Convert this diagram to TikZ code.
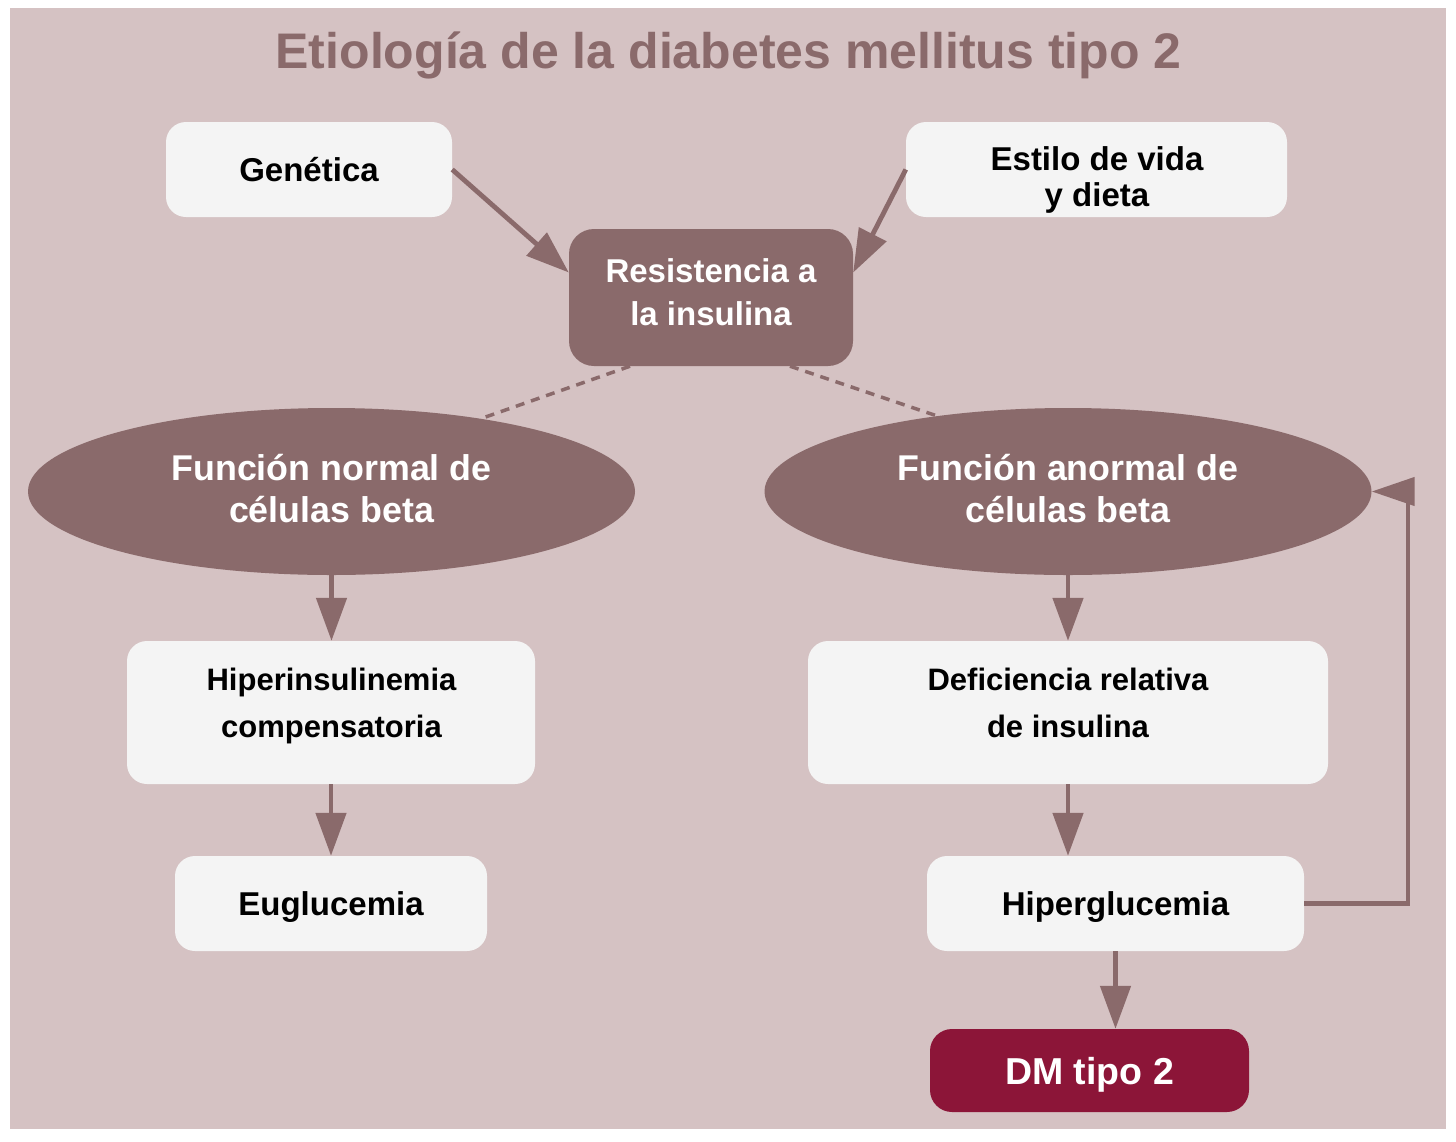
\documentclass[tikz,border=0pt]{standalone}
\usepackage{fontspec}
\setmainfont{Liberation Sans}
\usetikzlibrary{arrows.meta,shapes.geometric,calc}
\definecolor{bgc}{RGB}{213,194,195}
\definecolor{darkc}{RGB}{138,106,107}
\definecolor{lightc}{RGB}{244,244,244}
\definecolor{dmred}{RGB}{140,21,56}
\begin{document}
\begin{tikzpicture}[x=1pt,y=-1pt,
  lightbox/.style={fill=lightc, rounded corners=20pt, inner sep=0pt, text=black,
    text depth=0pt, font=\bfseries\fontsize{33}{36}\selectfont},
  darkbox/.style={fill=darkc, rounded corners=25pt, inner sep=0pt, text=white,
    font=\bfseries\fontsize{33}{43}\selectfont},
  darkell/.style={ellipse, fill=darkc, inner sep=0pt,
    minimum width=607pt, minimum height=167pt},
  txtk/.style={inner sep=0pt, text=black, align=center},
  txtw/.style={inner sep=0pt, text=white, align=center},
  arr/.style={draw=darkc, line width=4.8pt, -{Triangle[length=43pt,width=30pt]}},
  dashline/.style={draw=darkc, line width=3.5pt, dash pattern=on 9pt off 7pt}]
\useasboundingbox (0,0) rectangle (1456,1141);
\fill[white] (0,0) rectangle (1456,1141);
\fill[bgc] (10,8) rectangle (1446,1129);

\node[font=\bfseries\fontsize{50}{60}\selectfont, text=darkc, anchor=base, inner sep=0pt]
  (title) at (728.5,68) {Etiología de la diabetes mellitus tipo 2};

\node[lightbox, minimum width=286pt, minimum height=95pt] (gen) at (309,169.5) {Genética};
\node[lightbox, minimum width=381pt, minimum height=95pt] (est) at (1096.5,169.5) {};
\node[txtk, font=\bfseries\fontsize{33}{36}\selectfont] (estT) at (1097,180) {Estilo de vida\\y dieta};

\node[darkbox, minimum width=284pt, minimum height=137pt] (res) at (711,297.5) {};
\node[txtw, font=\bfseries\fontsize{33}{43}\selectfont] (resT) at (711,292.5) {Resistencia a\\la insulina};

\node[darkell] (ellL) at (331.5,491.5) {};
\node[txtw, font=\bfseries\fontsize{35.8}{42}\selectfont] (ellLT) at (331.5,488.5) {Función normal de\\células beta};
\node[darkell] (ellR) at (1068,491.5) {};
\node[txtw, font=\bfseries\fontsize{35.8}{42}\selectfont] (ellRT) at (1068,488.5) {Función anormal de\\células beta};

\node[lightbox, minimum width=408pt, minimum height=143pt] (hin) at (331,712.5) {};
\node[txtk, font=\bfseries\fontsize{31}{47}\selectfont] (hinT) at (331.5,705.5) {Hiperinsulinemia\\compensatoria};
\node[lightbox, minimum width=520pt, minimum height=143pt] (def) at (1068,712.5) {};
\node[txtk, font=\bfseries\fontsize{31}{47}\selectfont] (defT) at (1068,702.5) {Deficiencia relativa\\de insulina};

\node[lightbox, minimum width=312pt, minimum height=95pt] (eug) at (331,903.5) {Euglucemia};
\node[lightbox, minimum width=377pt, minimum height=95pt] (hgl) at (1115.5,903.5) {Hiperglucemia};

\node[fill=dmred, rounded corners=22pt, inner sep=0pt, text=white, text depth=0pt,
  minimum width=319pt, minimum height=83pt, font=\bfseries\fontsize{37.5}{40}\selectfont]
  (dm) at (1089.5,1070.5) {DM tipo 2};

% connectors
\draw[arr] (gen.east) -- ($(res.west)+(0,-25)$);
\draw[arr] (est.west) -- ($(res.east)+(0,-25)$);
\draw[dashline] ($(res.south)+(-81,0)$) -- (ellL.26.6);
\draw[dashline] ($(res.south)+(79,0)$) -- (ellR.150.4);
\draw[arr] (ellL.south) -- (ellL.south |- hin.north);
\draw[arr] (hin.south) -- (hin.south |- eug.north);
\draw[arr] (ellR.south) -- (ellR.south |- def.north);
\draw[arr] (def.south) -- (def.south |- hgl.north);
\draw[arr] (hgl.south) -- (hgl.south |- dm.north);
\draw[draw=darkc, line width=4.5pt, -{Triangle[length=43pt,width=28pt]}]
  (hgl.east) -- ++(104,0) |- (ellR.east);
\end{tikzpicture}
\end{document}
